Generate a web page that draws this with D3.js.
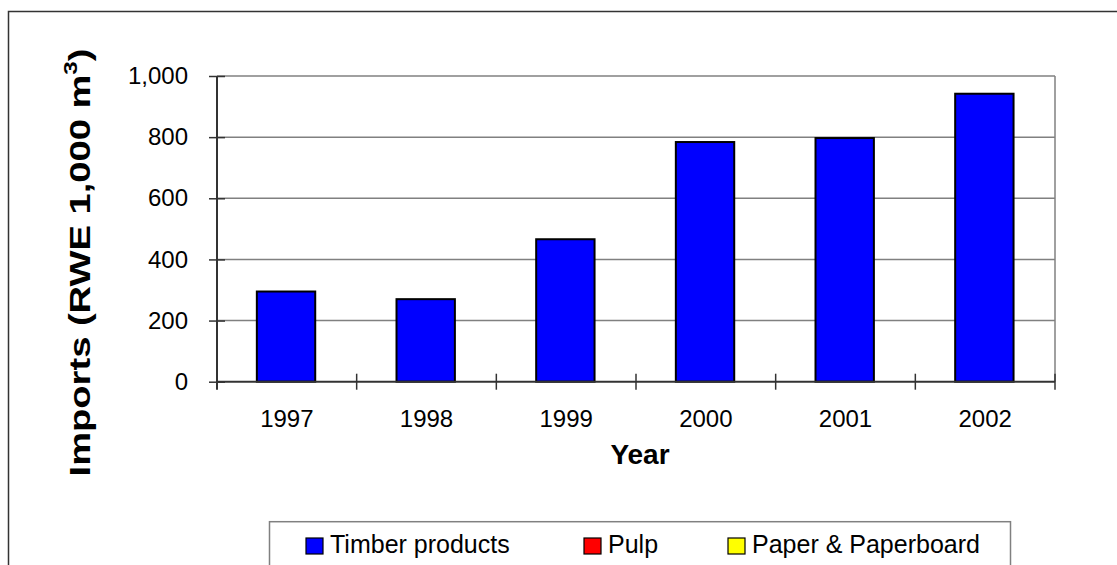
<!DOCTYPE html>
<html>
<head>
<meta charset="utf-8">
<script src="https://cdn.jsdelivr.net/npm/d3@7"></script>
<style>
  html, body { margin: 0; padding: 0; background: #fff; }
  svg { display: block; font-family: Arial, "Liberation Sans", sans-serif; }
</style>
</head>
<body>
<svg id="chart" width="1117" height="565"></svg>
<script>
// ---- data ----
const years = ["1997", "1998", "1999", "2000", "2001", "2002"];
const timberValues = [295, 270, 466, 784, 797, 942];
const seriesNames = ["Timber products", "Pulp", "Paper & Paperboard"];
const seriesColors = ["#0000FF", "#FF0000", "#FFFF00"];
const yTicks = [0, 200, 400, 600, 800, 1000];

const svg = d3.select("#chart");

// outer frame
svg.append("rect")
  .attr("x", 8.5).attr("y", 11.5)
  .attr("width", 1130).attr("height", 600)
  .attr("fill", "none").attr("stroke", "#333").attr("stroke-width", 1.5);

const plot = { left: 217, right: 1055, top: 76, bottom: 381.7 };

const x = d3.scaleBand().domain(years).range([plot.left, plot.right]).padding(0);
const y = d3.scaleLinear().domain([0, 1000]).range([plot.bottom, plot.top]);

// gridlines
svg.append("g").selectAll("line").data(yTicks.filter(d => d > 0)).join("line")
  .attr("x1", plot.left).attr("x2", plot.right)
  .attr("y1", d => y(d)).attr("y2", d => y(d))
  .attr("stroke", "#808080").attr("stroke-width", 1.5);

// right border of plot area
svg.append("line")
  .attr("x1", plot.right).attr("x2", plot.right)
  .attr("y1", plot.top).attr("y2", plot.bottom)
  .attr("stroke", "#808080").attr("stroke-width", 1.5);

// bars
const barW = x.bandwidth() * 0.418;
svg.append("g").selectAll("rect").data(years).join("rect")
  .attr("x", (d) => x(d) + x.bandwidth() / 2 - barW / 2 - 0.8)
  .attr("y", (d, i) => y(timberValues[i]))
  .attr("width", barW)
  .attr("height", (d, i) => y(0) - y(timberValues[i]))
  .attr("fill", seriesColors[0])
  .attr("stroke", "#000").attr("stroke-width", 2);

// y axis (ticks crossing axis)
const yAxis = d3.axisLeft(y).tickValues(yTicks).tickSize(16).tickPadding(21)
  .tickFormat(d3.format(","));
const gy = svg.append("g").attr("transform", `translate(${plot.left + 8},0)`).call(yAxis);
gy.select(".domain").remove();
gy.selectAll(".tick line").attr("stroke", "#333").attr("stroke-width", 1.5);
gy.selectAll(".tick text").attr("font-size", 24).attr("fill", "#000")
  .attr("font-family", "Arial, 'Liberation Sans', sans-serif");

svg.append("line")
  .attr("x1", plot.left).attr("x2", plot.left)
  .attr("y1", plot.top).attr("y2", plot.bottom + 8)
  .attr("stroke", "#333").attr("stroke-width", 2);

// x axis line
svg.append("line")
  .attr("x1", plot.left).attr("x2", plot.right)
  .attr("y1", plot.bottom).attr("y2", plot.bottom)
  .attr("stroke", "#333").attr("stroke-width", 2);

// x boundary ticks
const bounds = years.map(d => x(d)).concat([plot.right]);
svg.append("g").selectAll("line").data(bounds.slice(1)).join("line")
  .attr("x1", d => d).attr("x2", d => d)
  .attr("y1", plot.bottom - 8).attr("y2", plot.bottom + 8)
  .attr("stroke", "#333").attr("stroke-width", 1.5);

// x labels
const xAxis = d3.axisBottom(x).tickSize(0).tickPadding(0);
const gx = svg.append("g").attr("transform", `translate(0,${plot.bottom})`).call(xAxis);
gx.select(".domain").remove();
gx.selectAll(".tick text").attr("font-size", 24).attr("fill", "#000")
  .attr("dy", null).attr("y", 45.5)
  .attr("font-family", "Arial, 'Liberation Sans', sans-serif");

// axis titles
svg.append("text")
  .attr("x", 640).attr("y", 464)
  .attr("text-anchor", "middle")
  .attr("font-size", 28).attr("font-weight", "bold")
  .text("Year");

const yt = svg.append("text")
  .attr("text-anchor", "middle")
  .attr("font-size", 30).attr("font-weight", "bold");
yt.append("tspan").text("Imports (RWE 1,000 m");
yt.append("tspan").attr("font-size", 19).attr("dy", -13).text("3");
yt.append("tspan").attr("dy", 13).text(")");
const natLen = yt.node().getComputedTextLength();
const sc = 428 / natLen;
yt.attr("transform", `translate(90,262.5) rotate(-90) scale(${sc},1)`);

// legend
svg.append("rect")
  .attr("x", 269.5).attr("y", 521.7)
  .attr("width", 741).attr("height", 80)
  .attr("fill", "#fff").attr("stroke", "#808080").attr("stroke-width", 1.5);

const legendX = [306, 584, 728];
const lg = svg.append("g").selectAll("g").data(seriesNames).join("g")
  .attr("transform", (d, i) => `translate(${legendX[i]},538)`);
lg.append("rect")
  .attr("width", 17).attr("height", 16)
  .attr("fill", (d, i) => seriesColors[i])
  .attr("stroke", "#000").attr("stroke-width", 1.2);
lg.append("text")
  .attr("x", 24).attr("y", 15)
  .attr("font-size", 25)
  .text(d => d);
</script>
</body>
</html>
